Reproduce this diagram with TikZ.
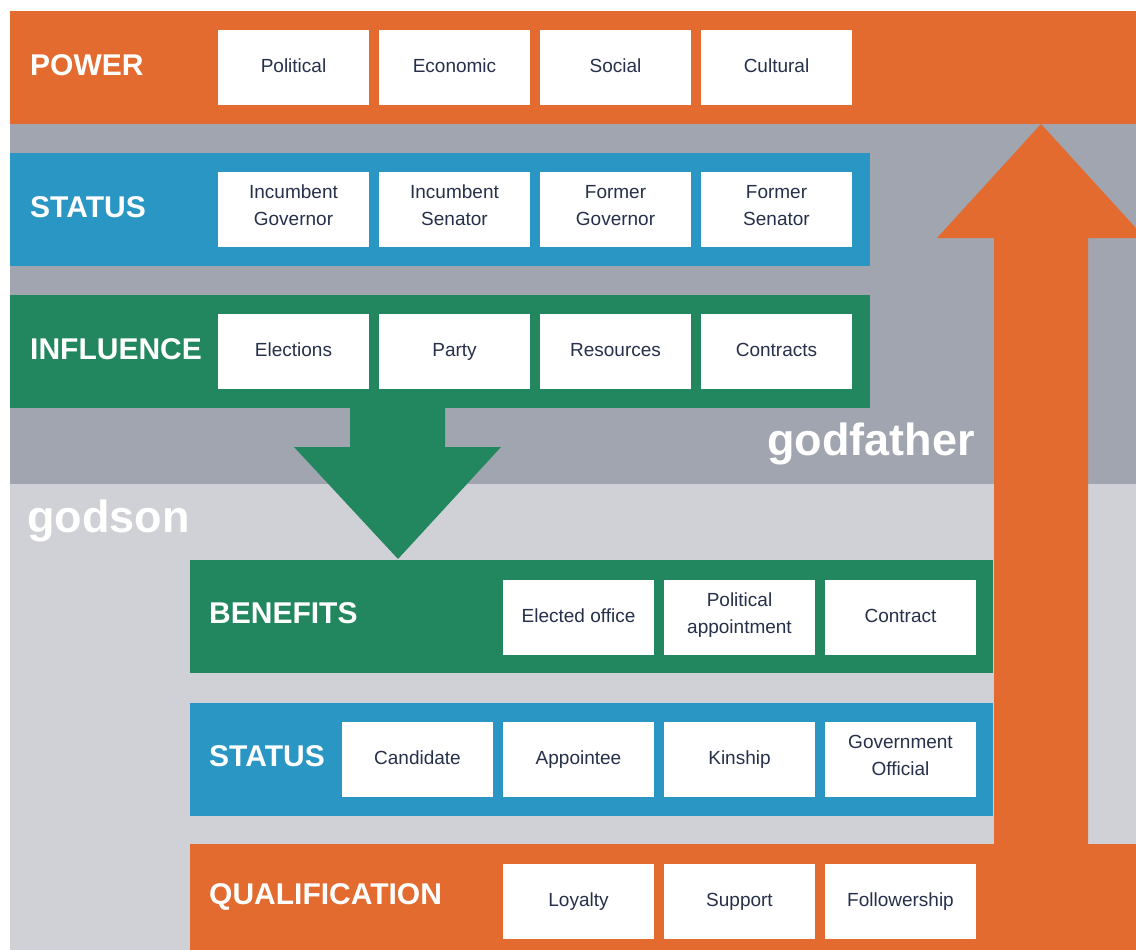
\documentclass[tikz,border=0pt]{standalone}
\usepackage{fontspec}
\setmainfont{Liberation Sans}
\definecolor{cOrange}{HTML}{E36B2F}
\definecolor{cBlue}{HTML}{2A96C4}
\definecolor{cGreen}{HTML}{22875F}
\definecolor{cDark}{HTML}{A1A5AF}
\definecolor{cLight}{HTML}{D0D1D6}
\definecolor{cNavy}{HTML}{26304A}
\tikzset{
  cell/.style={fill=white, minimum width=151pt, minimum height=75pt, inner sep=0pt,
    text=cNavy, align=center, font=\fontsize{19}{27}\selectfont,
    execute at begin node={\strut}, execute at end node={\strut}},
  bandlabel/.style={anchor=west, inner sep=0pt, text=white, font=\bfseries\fontsize{30}{36}\selectfont},
  biglabel/.style={anchor=base west, inner sep=0pt, text=white, font=\bfseries\fontsize{45}{50}\selectfont}
}
\begin{document}
\begin{tikzpicture}[x=1pt,y=-1pt]
\useasboundingbox (0,0) rectangle (1136,950);
\clip (0,0) rectangle (1136,950);
% backgrounds
\fill[cDark] (10,11) rectangle (1136,484);
\fill[cLight] (10,484) rectangle (1136,950);
% godfather bands
\fill[cOrange] (10,11) rectangle (1136,124);
\fill[cBlue] (10,153) rectangle (870,266);
\fill[cGreen] (10,295) rectangle (870,408);
% arrows
\fill[cGreen] (350,407) -- (350,447) -- (294,447) -- (398,559) -- (501,447) -- (445,447) -- (445,407) -- cycle;
\fill[cOrange] (994,845) -- (994,238) -- (937,238) -- (1041,124) -- (1145,238) -- (1088,238) -- (1088,845) -- cycle;
% godson bands
\fill[cGreen] (190,560) rectangle (993,673);
\fill[cBlue] (190,703) rectangle (993,816);
\fill[cOrange] (190,844) rectangle (1136,950);
% labels
\node[bandlabel] (lpower) at (30,65) {POWER};
\node[bandlabel] (lstatus) at (30,207) {STATUS};
\node[bandlabel] (linfl) at (30,349) {INFLUENCE};
\node[bandlabel] (lben) at (209,613) {BENEFITS};
\node[bandlabel] (lstat2) at (209,756) {STATUS};
\node[bandlabel] (lqual) at (209,897) {QUALIFICATION};
\node[biglabel] (godfather) at (767,455) {godfather};
\node[biglabel] (godson) at (27,532) {godson};
% power cells
\node[cell] (p1) at (293.5,67.5) {Political};
\node[cell] (p2) at (454.5,67.5) {Economic};
\node[cell] (p3) at (615.5,67.5) {Social};
\node[cell] (p4) at (776.5,67.5) {Cultural};
% status cells
\node[cell] (s1) at (293.5,209.5) {Incumbent\\Governor};
\node[cell] (s2) at (454.5,209.5) {Incumbent\\Senator};
\node[cell] (s3) at (615.5,209.5) {Former\\Governor};
\node[cell] (s4) at (776.5,209.5) {Former\\Senator};
% influence cells
\node[cell] (i1) at (293.5,351.5) {Elections};
\node[cell] (i2) at (454.5,351.5) {Party};
\node[cell] (i3) at (615.5,351.5) {Resources};
\node[cell] (i4) at (776.5,351.5) {Contracts};
% benefits cells
\node[cell] (b1) at (578.5,617) {Elected office};
\node[cell] (b2) at (739.5,617) {Political\\appointment};
\node[cell] (b3) at (900.5,617) {Contract};
% status 2 cells
\node[cell] (t1) at (417.5,759) {Candidate};
\node[cell] (t2) at (578.5,759) {Appointee};
\node[cell] (t3) at (739.5,759) {Kinship};
\node[cell] (t4) at (900.5,759) {Government\\Official};
% qualification cells
\node[cell] (q1) at (578.5,901) {Loyalty};
\node[cell] (q2) at (739.5,901) {Support};
\node[cell] (q3) at (900.5,901) {Followership};
\end{tikzpicture}
\end{document}
